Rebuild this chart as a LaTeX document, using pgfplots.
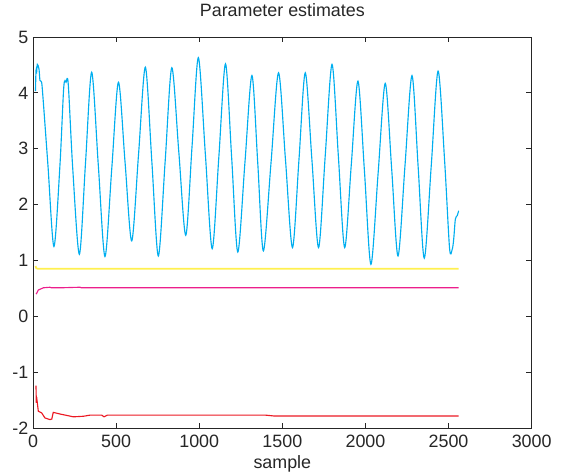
\documentclass[border=0pt]{standalone}
\usepackage{pgfplots}
\pgfplotsset{compat=1.18}
\usepackage{fontspec}
\setmainfont{Liberation Sans}
\definecolor{axgray}{RGB}{38,38,38}
\definecolor{estcyan}{RGB}{0,174,239}
\definecolor{estyellow}{RGB}{255,240,80}
\definecolor{estmagenta}{RGB}{236,30,140}
\definecolor{estred}{RGB}{235,25,35}

\begin{document}
\begin{tikzpicture}
\useasboundingbox (-24.75pt,-35.25pt) rectangle (399pt,321pt);
\begin{axis}[
    scale only axis,
    width=374pt, height=293.25pt,
    xmin=0, xmax=3000, ymin=-2, ymax=5,
    xtick={0,500,1000,1500,2000,2500,3000},
    xticklabels={0,500,1000,1500,2000,2500,3000},
    ytick={-2,-1,0,1,2,3,4,5},
    yticklabels={-2,-1,0,1,2,3,4,5},
    tick align=inside,
    major tick length=4pt,
    axis line style={axgray, line width=0.6pt},
    tick style={axgray, line width=0.6pt},
    every tick label/.append style={font=\fontsize{13.4}{16}\selectfont, text=axgray},
    xticklabel style={anchor=base, yshift=-14.6pt},
    title=Parameter estimates,
    title style={font=\fontsize{13.4}{16}\selectfont, text=axgray,
        at={(axis description cs:0.5,1)}, anchor=base, yshift=9.75pt},
    xlabel=sample,
    xlabel style={font=\fontsize{13.4}{16}\selectfont, text=axgray,
        at={(axis description cs:0.5,0)}, anchor=base, yshift=-30.75pt},
    every axis plot/.append style={line width=0.85pt},
]
% first parameter (oscillating)
\addplot[estcyan, smooth, tension=0.5] coordinates {
    (15,4.03) (18,4.40) (22,4.37) (26,4.51) (36,4.43) (42,4.22) (52,4.19) (62,3.84)
    (90,2.70) (126,1.25) (162,2.70) (185,4.10) (199,4.19) (212,4.16) (239,2.65)
    (279,1.11) (316,2.75) (353,4.37) (393,2.70) (433,1.07) (474,2.65) (514,4.19)
    (554,2.75) (594,1.35) (635,2.90) (676,4.46) (715,2.77) (754,1.08) (795,2.77)
    (835,4.45) (877,2.95) (919,1.45) (957,3.05) (995,4.63) (1037,2.90) (1078,1.21)
    (1118,2.85) (1158,4.52) (1195,2.85) (1232,1.15) (1275,2.75) (1317,4.31)
    (1352,2.75) (1386,1.17) (1432,2.75) (1477,4.36) (1519,2.80) (1561,1.23)
    (1600,2.80) (1638,4.36) (1678,2.80) (1718,1.23) (1758,2.87) (1799,4.51)
    (1837,2.87) (1875,1.23) (1915,2.72) (1955,4.21) (1994,2.60) (2033,0.93)
    (2076,2.55) (2119,4.17) (2158,2.63) (2196,1.08) (2238,2.70) (2280,4.31)
    (2317,2.68) (2354,1.04) (2396,2.70) (2437,4.39) (2476,2.80) (2506,1.22)
    (2522,1.20) (2531,1.38) (2541,1.74) (2552,1.80) (2561,1.89)
};
% second parameter
\addplot[estyellow, line width=1.3pt] coordinates {
    (15,0.90) (20,0.86) (30,0.85) (2561,0.85)
};
% third parameter
\addplot[estmagenta] coordinates {
    (18,0.40) (22,0.41) (32,0.47) (62,0.51) (102,0.52) (110,0.51) (163,0.51)
    (283,0.52) (290,0.51) (2561,0.51)
};
% fourth parameter
\addplot[estred] coordinates {
    (18,-1.24) (20,-1.55) (22,-1.45) (26,-1.55) (32,-1.70) (52,-1.73) (72,-1.82)
    (102,-1.85) (113,-1.84) (122,-1.72) (163,-1.75) (243,-1.80) (303,-1.79)
    (343,-1.77) (414,-1.77) (427,-1.80) (447,-1.77) (704,-1.77) (1400,-1.77)
    (1450,-1.785) (2561,-1.785)
};
\end{axis}
\end{tikzpicture}
\end{document}
